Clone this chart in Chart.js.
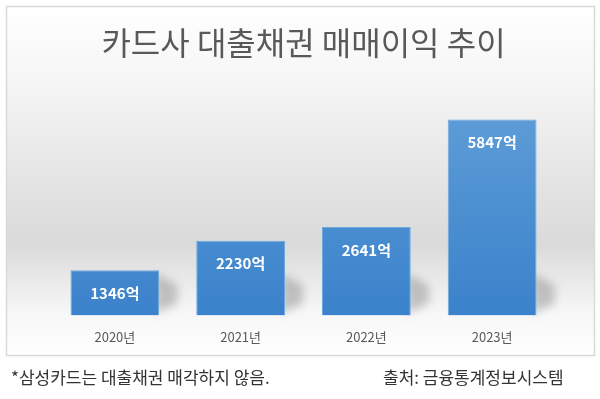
<!DOCTYPE html>
<html>
<head>
<meta charset="utf-8">
<script src="https://cdn.jsdelivr.net/npm/chart.js@4"></script>
<style>
  body { margin: 0; background: #fff; }
  #wrap { position: relative; width: 600px; height: 399px; }
  .note { position: absolute; top: 367px; font-family: "Noto Sans CJK KR", sans-serif; font-size: 17px; color: #333; white-space: nowrap; line-height: 20px; }
</style>
</head>
<body>
<div id="wrap">
  <canvas id="myChart" width="600" height="399"></canvas>
  <div class="note" id="noteLeft" style="left:11px;"></div>
  <div class="note" id="noteRight" style="left:383px;"></div>
</div>
<script>
var years = ['2020년', '2021년', '2022년', '2023년'];
var profit = [1346, 2230, 2641, 5847]; // 억원
var unit = '억';
var titleText = '카드사 대출채권 매매이익 추이';
var footLeft = '*삼성카드는 대출채권 매각하지 않음.';
var footRight = '출처: 금융통계정보시스템';

document.getElementById('noteLeft').textContent = footLeft;
document.getElementById('noteRight').textContent = footRight;

// background box with the grey "floor" gradient
var backdrop = {
  id: 'backdrop',
  beforeDraw: function(chart) {
    var c = chart.ctx;
    c.save();
    var g = c.createLinearGradient(0, 7, 0, 355);
    g.addColorStop(0, '#ffffff');
    g.addColorStop(0.2, '#f6f6f6');
    g.addColorStop(0.68, '#dadada');
    g.addColorStop(0.88, '#f7f7f7');
    g.addColorStop(1, '#ffffff');
    c.fillStyle = g;
    c.fillRect(7, 7, 587, 348);
    c.strokeStyle = '#d9d9d9';
    c.lineWidth = 1.5;
    c.strokeRect(6.5, 6.5, 588, 349);
    c.restore();
  },
  beforeDatasetsDraw: function(chart) {
    // soft shadows to the right of each bar
    var c = chart.ctx;
    c.save();
    c.filter = 'blur(4px)';
    c.fillStyle = 'rgba(0,0,0,0.2)';
    chart.getDatasetMeta(0).data.forEach(function(bar) {
      var right = bar.x + bar.width / 2;
      var bottom = bar.base;
      var sh = Math.min(bottom - bar.y, 42);
      c.beginPath();
      c.moveTo(right - 4, bottom - 2);
      c.lineTo(right - 4, bottom - sh);
      c.lineTo(right + 18, bottom - sh + 12);
      c.lineTo(right + 18, bottom - 12);
      c.closePath();
      c.fill();
    });
    c.restore();
  },
  afterDatasetsDraw: function(chart) {
    var c = chart.ctx;
    c.save();
    c.fillStyle = '#ffffff';
    c.font = 'bold 15px "Noto Sans CJK KR", sans-serif';
    c.textAlign = 'center';
    c.textBaseline = 'middle';
    chart.getDatasetMeta(0).data.forEach(function(bar, i) {
      c.fillText(profit[i] + unit, bar.x, bar.y + 23);
    });
    c.restore();
  }
};

var ctx = document.getElementById('myChart').getContext('2d');
var myChart = new Chart(ctx, {
  type: 'bar',
  data: {
    labels: years,
    datasets: [{
      data: profit,
      backgroundColor: function(context) {
        var area = context.chart.chartArea;
        if (!area) return '#4a8fd2';
        var g = context.chart.ctx.createLinearGradient(0, area.top, 0, area.bottom);
        g.addColorStop(0, '#5d9cd7');
        g.addColorStop(1, '#3a82cb');
        return g;
      },
      borderColor: '#6ea8de',
      borderWidth: 1,
      barPercentage: 0.706,
      categoryPercentage: 1
    }]
  },
  plugins: [backdrop],
  options: {
    responsive: false,
    animation: false,
    layout: { padding: { left: 52, right: 45, top: 0, bottom: 40 } },
    plugins: {
      legend: { display: false },
      tooltip: { enabled: false },
      title: {
        display: true,
        text: titleText,
        color: '#595959',
        font: { family: '"Noto Sans CJK KR", sans-serif', size: 32, weight: 'normal' },
        padding: { top: 24, bottom: 52 }
      }
    },
    scales: {
      x: {
        grid: { display: false, drawTicks: false },
        border: { display: false },
        ticks: {
          color: '#595959',
          padding: 14,
          font: { family: '"Noto Sans CJK KR", sans-serif', size: 13 }
        }
      },
      y: {
        display: false,
        min: 0,
        max: 6000
      }
    }
  }
});
</script>
</body>
</html>
